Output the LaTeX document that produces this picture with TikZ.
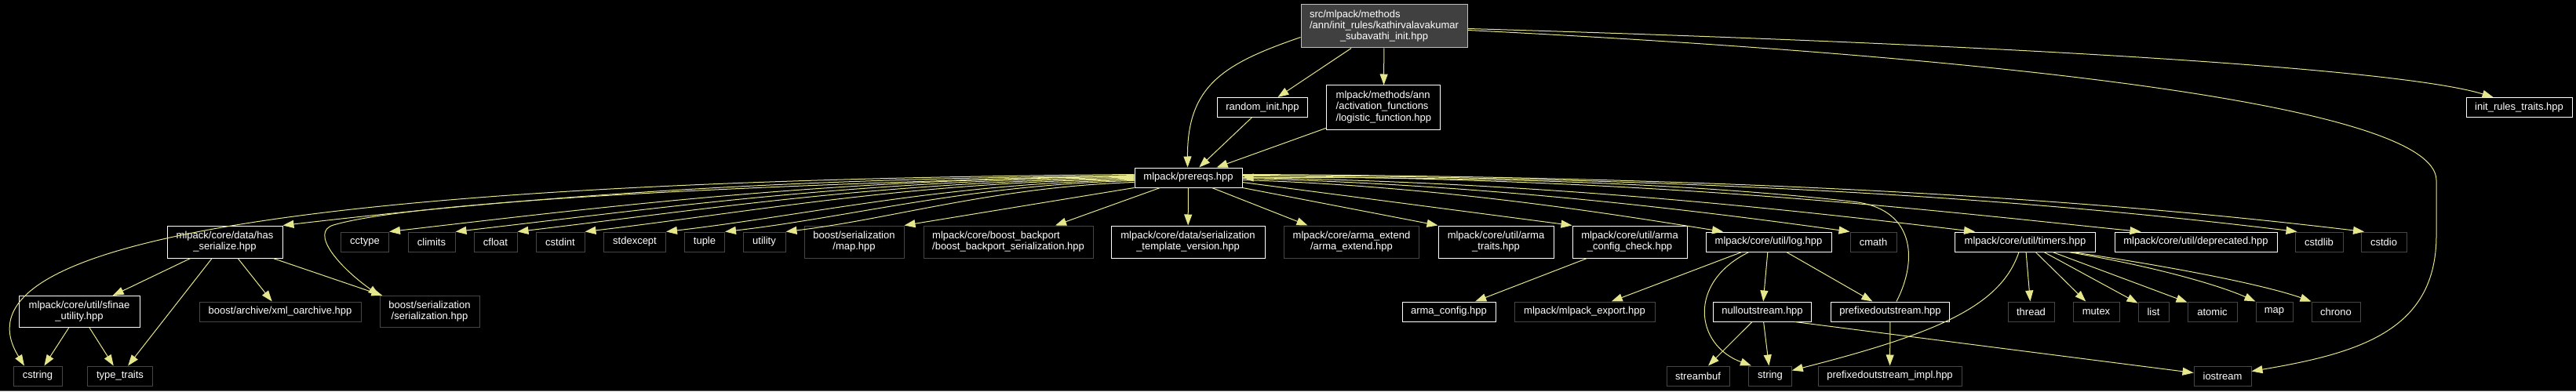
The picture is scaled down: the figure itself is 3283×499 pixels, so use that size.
\documentclass[tikz,border=0pt]{standalone}
\usepackage{fontspec}
\setmainfont{Liberation Sans}
\usepackage{xcolor}
\definecolor{edgekhaki}{RGB}{230,230,140}
\definecolor{sysgray}{RGB}{70,70,70}
\definecolor{maingray}{RGB}{64,64,64}
\definecolor{mainborder}{RGB}{191,191,191}
\definecolor{rulegray}{RGB}{90,90,90}
\usepackage{tikz}
\usetikzlibrary{arrows.meta}
\newcommand{\twolines}[2]{\begin{tabular}{@{}l@{}}#1\\\multicolumn{1}{@{}c@{}}{#2}\end{tabular}}
\newcommand{\threelines}[3]{\begin{tabular}{@{}l@{}}#1\\#2\\\multicolumn{1}{@{}c@{}}{#3}\end{tabular}}

\begin{document}
\begin{tikzpicture}[x=1pt,y=1pt]
  \tikzstyle{doc}=[rectangle,draw=white,fill=black,text=white,line width=1pt,inner sep=0pt,minimum height=25pt,font=\fontsize{13}{14.3}\selectfont]
  \tikzstyle{sys}=[doc,draw=sysgray]
  \tikzstyle{mainfile}=[doc,draw=mainborder,fill=maingray]
  \tikzstyle{inc}=[draw=edgekhaki,line width=1pt,-{Triangle[length=14pt,width=10pt]}]
  \useasboundingbox (0,0) rectangle (3283,499);
  \fill[black] (0,0) rectangle (3283,499);
  \draw[rulegray,line width=1pt] (0,0.5) -- (3283,0.5);

  % top rows
  \node[mainfile,minimum width=212pt,minimum height=55pt] (kathir) at (1764,465.5) {\threelines{src/mlpack/methods}{/ann/init\_rules/kathirvalavakumar}{\_subavathi\_init.hpp}};
  \node[doc,minimum width=115pt] (randinit) at (1609,362) {random\_init.hpp};
  \node[doc,minimum width=145pt,minimum height=56pt] (logistic) at (1763.4,362) {\threelines{mlpack/methods/ann}{/activation\_functions}{/logistic\_function.hpp}};
  \node[doc,minimum width=135pt] (rulestraits) at (3210.5,362) {init\_rules\_traits.hpp};
  \node[doc,minimum width=137pt] (prereqs) at (1514.5,272.5) {mlpack/prereqs.hpp};

  % includes of prereqs.hpp
  \node[doc,minimum width=147pt,minimum height=41pt] (hasser) at (286.5,190.5) {\twolines{mlpack/core/data/has}{\_serialize.hpp}};
  \node[sys,minimum width=61pt] (cctype) at (465,190.5) {cctype};
  \node[sys,minimum width=60pt] (climits) at (550,190.5) {climits};
  \node[sys,minimum width=55pt] (cfloat) at (631.5,190.5) {cfloat};
  \node[sys,minimum width=62pt] (cstdint) at (714,190.5) {cstdint};
  \node[sys,minimum width=79pt] (stdexcept) at (809,190.5) {stdexcept};
  \node[sys,minimum width=51pt] (tuple) at (898,190.5) {tuple};
  \node[sys,minimum width=54pt] (utility) at (974,190.5) {utility};
  \node[sys,minimum width=127pt,minimum height=41pt] (sermap) at (1088.5,190.5) {\twolines{boost/serialization}{/map.hpp}};
  \node[sys,minimum width=216pt,minimum height=41pt] (backport) at (1285,190.5) {\twolines{mlpack/core/boost\_backport}{/boost\_backport\_serialization.hpp}};
  \node[doc,minimum width=196pt,minimum height=41pt] (tmplver) at (1514,190.5) {\twolines{mlpack/core/data/serialization}{\_template\_version.hpp}};
  \node[sys,minimum width=172pt,minimum height=41pt] (armaext) at (1722.5,190.5) {\twolines{mlpack/core/arma\_extend}{/arma\_extend.hpp}};
  \node[doc,minimum width=147pt,minimum height=41pt] (armatraits) at (1906.5,190.5) {\twolines{mlpack/core/util/arma}{\_traits.hpp}};
  \node[doc,minimum width=146pt,minimum height=41pt] (armacheck) at (2077,190.5) {\twolines{mlpack/core/util/arma}{\_config\_check.hpp}};
  \node[doc,minimum width=160pt] (log) at (2254,190.5) {mlpack/core/util/log.hpp};
  \node[sys,minimum width=59pt] (cmath) at (2387.5,190.5) {cmath};
  \node[doc,minimum width=179pt] (timers) at (2581,190.5) {mlpack/core/util/timers.hpp};
  \node[doc,minimum width=207pt] (deprecated) at (2798.5,190.5) {mlpack/core/util/deprecated.hpp};
  \node[sys,minimum width=61pt] (cstdlib) at (2955.5,190.5) {cstdlib};
  \node[sys,minimum width=58pt] (cstdio) at (3038,190.5) {cstdio};

  % third row
  \node[doc,minimum width=154pt,minimum height=40pt] (sfinae) at (101,101.5) {\twolines{mlpack/core/util/sfinae}{\_utility.hpp}};
  \node[sys,minimum width=206pt] (xmlo) at (357,101.5) {boost/archive/xml\_oarchive.hpp};
  \node[sys,minimum width=127pt,minimum height=40pt] (serhpp) at (547.5,101.5) {\twolines{boost/serialization}{/serialization.hpp}};
  \node[doc,minimum width=119pt] (armaconfig) at (1846.5,101.5) {arma\_config.hpp};
  \node[sys,minimum width=179pt] (mlexport) at (2019.5,101.5) {mlpack/mlpack\_export.hpp};
  \node[doc,minimum width=125.5pt] (nullout) at (2246,101.5) {nulloutstream.hpp};
  \node[doc,minimum width=150.5pt] (prefout) at (2409,101.5) {prefixedoutstream.hpp};
  \node[sys,minimum width=59pt] (thread) at (2588.5,101.5) {thread};
  \node[sys,minimum width=59pt] (mutex) at (2671.5,101.5) {mutex};
  \node[sys,minimum width=39pt] (list) at (2744.5,101.5) {list};
  \node[sys,minimum width=63pt] (atomic) at (2819.5,101.5) {atomic};
  \node[sys,minimum width=47pt] (stdmap) at (2898.5,101.5) {map};
  \node[sys,minimum width=62pt] (chrono) at (2977,101.5) {chrono};

  % bottom row
  \node[sys,minimum width=62pt] (cstring) at (48,19.5) {cstring};
  \node[sys,minimum width=83pt] (typetraits) at (153,19.5) {type\_traits};
  \node[sys,minimum width=80pt] (streambuf) at (2164,19.5) {streambuf};
  \node[sys,minimum width=54.5pt] (string) at (2256,19.5) {string};
  \node[sys,minimum width=183pt] (prefimpl) at (2408.5,19.5) {prefixedoutstream\_impl.hpp};
  \node[sys,minimum width=73pt] (iostream) at (2832.5,19.5) {iostream};

  % edges of the main file
  \draw[inc] ([yshift=-14pt]kathir.west) .. controls (1560,418) and (1513,390) .. ([xshift=-1pt]prereqs.north);
  \draw[inc] (kathir) -- (randinit);
  \draw[inc] (kathir) -- (logistic);
  \draw[inc] ([yshift=-3pt]kathir.east) .. controls (2500,444) and (3050,414) .. ([xshift=-33pt]rulestraits.north);
  \draw[inc] ([yshift=-5pt]kathir.east) .. controls (2500,429) and (3105,369) .. (3105,269) -- (3105,199) .. controls (3105,79) and (3010,49) .. ([yshift=6pt]iostream.east);
  \draw[inc] (randinit) -- (prereqs);
  \draw[inc] (logistic) -- (prereqs);

  % prereqs.hpp, to the left
  \draw[inc] ([yshift=4pt]prereqs.west) .. controls (300,267) and (-60,179) .. ([xshift=-17pt]cstring.north);
  \draw[inc] ([yshift=2pt]prereqs.west) .. controls +(-434,-2) and +(326,38) .. (hasser.north east);
  \draw[inc] ([yshift=3pt]prereqs.west) .. controls (900,262) and (520,240) .. (425,212) .. controls (395,203) and (430,160) .. (serhpp.north west);
  \draw[inc] ([yshift=1pt]prereqs.west) .. controls +(-380,-2) and +(285,33) .. (cctype.north east);
  \draw[inc] (prereqs.west) .. controls +(-346,-2) and +(260,30) .. (climits.north east);
  \draw[inc] ([yshift=-1pt]prereqs.west) .. controls +(-315,-3) and +(236,28) .. (cfloat.north east);
  \draw[inc] ([yshift=-2pt]prereqs.west) .. controls +(-280,-3) and +(210,25) .. (cstdint.north east);
  \draw[inc] ([yshift=-3pt]prereqs.west) .. controls +(-239,-4) and +(180,21) .. (stdexcept.north east);
  \draw[inc] ([yshift=-4pt]prereqs.west) .. controls +(-209,-5) and +(157,18) .. (tuple.north east);
  \draw[inc] ([yshift=-6pt]prereqs.west) .. controls +(-178,-6) and +(134,16) .. (utility.north east);
  \draw[inc] (prereqs.south west) -- (sermap.north east);
  \draw[inc] ([xshift=-36pt]prereqs.south) -- ([xshift=60pt]backport.north);
  \draw[inc] (prereqs) -- (tmplver);

  % prereqs.hpp, to the right
  \draw[inc] ([xshift=30pt]prereqs.south) -- ([xshift=-56pt]armaext.north);
  \draw[inc] (prereqs.south east) -- (armatraits.north west);
  \draw[inc] ([yshift=-6pt]prereqs.east) -- (armacheck.north west);
  \draw[inc] ([yshift=-3pt]prereqs.east) .. controls +(250,-8) and +(-150,24) .. ([xshift=-58pt]log.north);
  \draw[inc] ([yshift=-1pt]prereqs.east) .. controls +(320,-8) and +(-180,25) .. (cmath.north west);
  \draw[inc] (prereqs.east) .. controls +(380,-6) and +(-250,30) .. ([xshift=-64pt]timers.north);
  \draw[inc] ([yshift=2pt]prereqs.east) .. controls +(550,-3) and +(-250,25) .. ([xshift=-70pt]deprecated.north);
  \draw[inc] ([yshift=3pt]prereqs.east) .. controls +(700,-3) and +(-250,30) .. ([xshift=-28pt]cstdlib.north);
  \draw[inc] ([yshift=4pt]prereqs.east) .. controls +(750,-3) and +(-250,30) .. ([xshift=-25pt]cstdio.north);

  % has_serialize.hpp and sfinae_utility.hpp
  \draw[inc] (hasser) -- (sfinae);
  \draw[inc] (hasser) -- (typetraits);
  \draw[inc] (hasser) -- (xmlo);
  \draw[inc] (hasser) -- (serhpp);
  \draw[inc] (sfinae) -- (cstring);
  \draw[inc] (sfinae) -- (typetraits);
  \draw[inc] (armacheck) -- (armaconfig);

  % log.hpp and its streams
  \draw[inc] (log) -- (mlexport);
  \draw[inc] (log) -- (nullout);
  \draw[inc] (log) -- (prefout);
  \draw[inc] ([xshift=-25pt]log.south) .. controls (2150,139) and (2160,59) .. ([xshift=-24pt]string.north);
  \draw[inc] (nullout) -- (streambuf);
  \draw[inc] (nullout) -- (string);
  \draw[inc] ([xshift=41pt]nullout.south) -- ([yshift=4pt]iostream.west);
  \draw[inc] (prefout) -- (prefimpl);
  \draw[inc] ([xshift=8pt]prefout.north) .. controls (2445,169) and (2440,234) .. (2360,242) .. controls (2100,271) and (1800,273) .. (prereqs.east);

  % timers.hpp
  \draw[inc] ([xshift=-8pt]timers.south) .. controls (2550,109) and (2470,74) .. ([yshift=7pt]string.east);
  \draw[inc] (timers) -- (thread);
  \draw[inc] (timers) -- (mutex);
  \draw[inc] (timers) -- (list);
  \draw[inc] (timers) -- (atomic);
  \draw[inc] ([xshift=55pt]timers.south) .. controls +(120,-20) and +(-40,18) .. (stdmap.north west);
  \draw[inc] ([xshift=60pt]timers.south) .. controls +(150,-22) and +(-50,18) .. (chrono.north west);
\end{tikzpicture}
\end{document}
